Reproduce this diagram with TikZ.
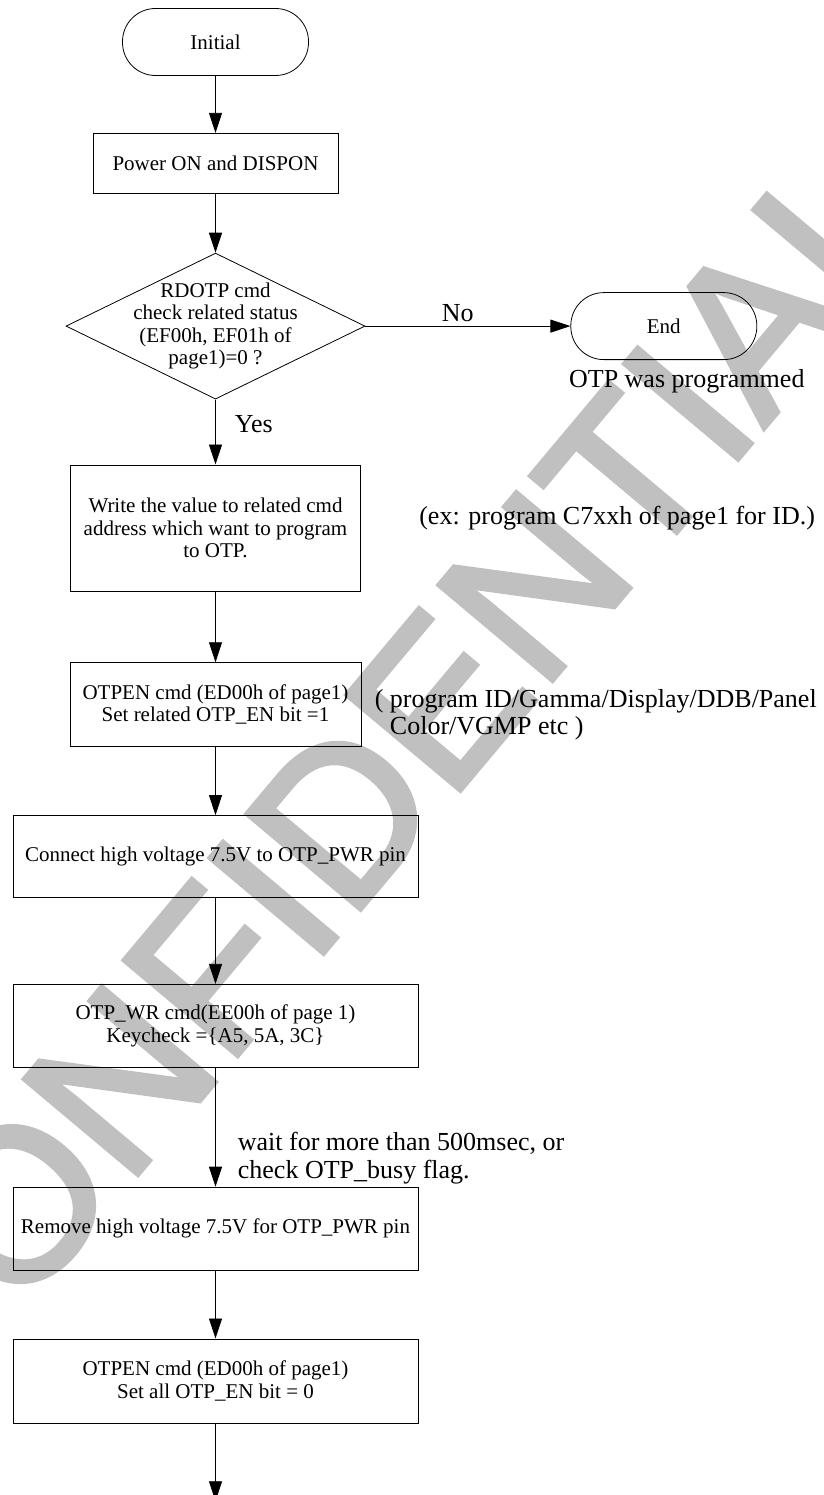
\documentclass[tikz,border=0pt]{standalone}
\usepackage{fontspec}
\setmainfont{Liberation Serif}
\newfontfamily\wmfont[FakeBold=2.5]{Liberation Sans}
\usetikzlibrary{shapes.geometric,arrows.meta,positioning}
\definecolor{wmgray}{RGB}{192,192,192}

\begin{document}
\begin{tikzpicture}[
		x=1pt, y=-1pt, line width=0.8pt,
		every node/.style={font=\fontsize{21}{22.5}\selectfont},
		terminal/.style={draw, rounded corners=33pt, minimum width=186pt, minimum height=67pt, inner sep=0pt},
		process/.style={draw, align=center, inner sep=0pt, minimum width=405pt, minimum height=83pt},
		decision/.style={draw, diamond, aspect=2.05, align=center, inner sep=-10pt, minimum width=299pt, minimum height=146pt},
		arrow/.style={-{Triangle[length=20pt, width=13pt]}},
		note/.style={font=\fontsize{26}{26.5}\selectfont, inner sep=0pt, align=left},
		watermark/.style={font=\wmfont\fontsize{215}{215}\selectfont, text=wmgray, inner sep=0pt, rotate=50, anchor=base west}
	]
	\useasboundingbox (0,0) rectangle (823,1495);
	% watermark behind the chart
	\node[watermark] (wm) at (-81,1435) {CONFIDENTIAL};

	\node[terminal] (init) at (215.5,42) {Initial};
	\node[process, below=57pt of init, minimum width=245pt, minimum height=60pt]
		(power)
		{Power ON and DISPON};
	\node[decision, below=59pt of power]
		(check)
		{RDOTP cmd\\check related status\\(EF00h, EF01h of\\page1)=0 ?};
	\node[terminal, right=205pt of check] (end) {End};
	\node[process, below=65pt of check, minimum width=290pt, minimum height=126pt]
		(write)
		{Write the value to related cmd\\address which want to program\\to OTP.};
	\node[process, below=71pt of write, minimum width=291pt, minimum height=84pt]
		(otpen)
		{OTPEN cmd (ED00h of page1)\\Set related OTP\_EN bit =1};
	\node[process, below=68pt of otpen, minimum height=82pt]
		(connect)
		{Connect high voltage 7.5V to OTP\_PWR pin};
	\node[process, below=86pt of connect]
		(otpwr)
		{OTP\_WR cmd(EE00h of page 1)\\Keycheck =\{A5, 5A, 3C\}};
	\node[process, below=119pt of otpwr]
		(remove)
		{Remove high voltage 7.5V for OTP\_PWR pin};
	\node[process, below=68pt of remove, minimum height=84pt]
		(otpdis)
		{OTPEN cmd (ED00h of page1)\\Set all OTP\_EN bit = 0};
	\coordinate[below=78pt of otpdis] (fin);

	% side notes
	\node[note, below=9pt of end, xshift=23pt] (prog) {OTP was programmed};
	\node[note, right=58pt of write, yshift=10pt] (ex) {(ex: program C7xxh of page1 for ID.)};
	\node[note, right=13pt of otpen, yshift=-10pt]
		(items)
		{( program ID/Gamma/Display/DDB/Panel\\\phantom{(}\ Color/VGMP etc )};

	\draw[arrow] (init) -- (power);
	\draw[arrow] (power) -- (check);
	\draw[arrow] (check) -- node[note, above=4pt, pos=0.45] (no) {No} (end);
	\draw[arrow] (check) -- node[note, anchor=west, xshift=19pt, pos=0.385] (yes) {Yes} (write);
	\draw[arrow] (write) -- (otpen);
	\draw[arrow] (otpen) -- (connect);
	\draw[arrow] (connect) -- (otpwr);
	\draw[arrow] (otpwr) -- node[note, font=\fontsize{26}{28}\selectfont, anchor=west, xshift=22pt, pos=0.756]
		(wait) {wait for more than 500msec, or\\check OTP\_busy flag.} (remove);
	\draw[arrow] (remove) -- (otpdis);
	\draw[arrow] (otpdis) -- (fin);
\end{tikzpicture}
\end{document}
